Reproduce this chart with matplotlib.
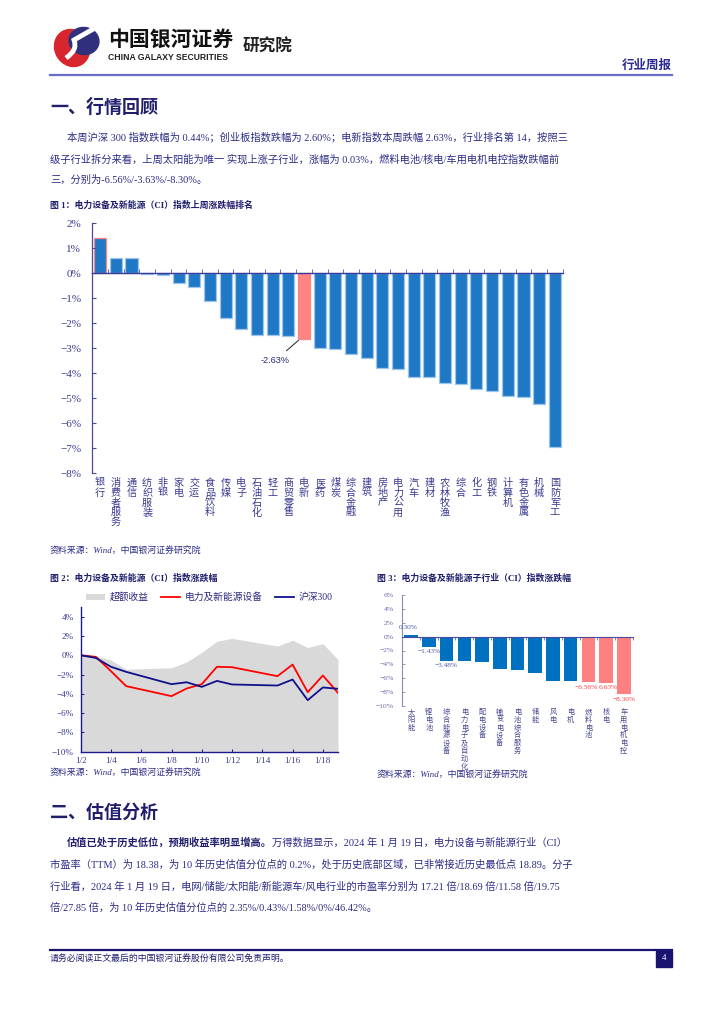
import numpy as np
import matplotlib
matplotlib.use("Agg")
import matplotlib.pyplot as plt
from matplotlib.patches import Rectangle, Ellipse, Patch, PathPatch
from matplotlib.lines import Line2D
from matplotlib.path import Path

# ---------------- data ----------------
# Figure 1: weekly change by industry (%)
ind_labels = ['银行', '消费者服务', '通信', '纺织服装', '非银', '家电', '交运', '食品饮料', '传媒', '电子',
              '石油石化', '轻工', '商贸零售', '电新', '医药', '煤炭', '综合金融', '建筑', '房地产', '电力公用',
              '汽车', '建材', '农林牧渔', '综合', '化工', '钢铁', '计算机', '有色金属', '机械', '国防军工']
ind_values = [1.40, 0.63, 0.60, -0.04, -0.07, -0.39, -0.56, -1.11, -1.80, -2.23,
              -2.45, -2.48, -2.49, -2.63, -2.99, -3.04, -3.24, -3.37, -3.80, -3.83,
              -4.13, -4.13, -4.40, -4.44, -4.61, -4.72, -4.92, -4.95, -5.24, -6.96]
ind_highlight = '电新'

# Figure 2: cumulative change since 1/2 (%)
day_of_jan = [2, 3, 4, 5, 8, 9, 10, 11, 12, 15, 16, 17, 18, 19]
power_equip = [0.0, -0.17, -1.65, -3.20, -4.24, -3.45, -3.00, -1.20, -1.24, -2.17, -0.97, -3.83, -2.10, -3.90]
hs300 = [0.0, -0.28, -1.20, -1.72, -3.00, -2.80, -3.28, -2.66, -3.03, -3.14, -2.52, -4.66, -3.34, -3.48]
excess = [0.0, -0.05, -0.50, -1.45, -1.30, -0.70, 0.30, 1.45, 1.75, 0.95, 1.55, 0.80, 1.20, -0.45]
date_ticks = [2, 4, 6, 8, 10, 12, 14, 16, 18]
date_tick_labels = ['1/2', '1/4', '1/6', '1/8', '1/10', '1/12', '1/14', '1/16', '1/18']

# Figure 3: sub-industry change (%)
sub_labels = ['太阳能', '锂电池', '综合能源设备', '电力电子及自动化', '配电设备', '输变电设备', '电池综合服务',
              '储能', '风电', '电机', '燃料电池', '核电', '车用电机电控']
sub_values = [0.30, -1.43, -3.48, -3.55, -3.69, -4.70, -4.80, -5.28, -6.33, -6.38, -6.56, -6.63, -8.30]
sub_highlight = ['燃料电池', '核电', '车用电机电控']
sub_value_texts = {0: '0.30%', 1: '−1.43%', 2: '−3.48%', 10: '−6.56%', 11: '6.63%', 12: '−8.30%'}

# ---------------- style ----------------
W, H = 724, 1024
NAVY = '#2B2B85'
DARK = '#1F1F6E'
CJK = ['Liberation Serif', 'Noto Sans CJK SC', 'DejaVu Sans']
CJK_SANS = ['Noto Sans CJK SC', 'DejaVu Sans']
plt.rcParams['font.family'] = CJK
plt.rcParams['axes.unicode_minus'] = True
BODY = 7.4

fig = plt.figure(figsize=(W / 100, H / 100), dpi=100)
fig.patch.set_facecolor('white')

page = fig.add_axes([0, 0, 1, 1])
page.set_xlim(0, W)
page.set_ylim(H, 0)
page.axis('off')
page.set_zorder(0)


def add_ax(x0, y0, x1, y1):
    a = fig.add_axes([x0 / W, 1 - y1 / H, (x1 - x0) / W, (y1 - y0) / H])
    a.set_zorder(2)
    a.patch.set_alpha(0)
    return a


def pct(v):
    s = f'{abs(int(v))}%'
    return ('−' + s) if v < 0 else s


# ---------------- header ----------------
page.add_patch(Ellipse((72, 48), 34, 38, angle=-30, color='#D7262E'))
page.add_patch(Ellipse((84, 41), 30, 27, angle=10, color='#2F2F7E'))
s_path = Path([(66, 58), (78, 50), (74, 40), (88, 32), (95, 28)],
              [Path.MOVETO, Path.CURVE3, Path.CURVE3, Path.CURVE3, Path.CURVE3])
page.add_patch(PathPatch(s_path, fc='none', ec='white', lw=3.5))
page.text(108, 39, '中国银河证券', fontsize=15, fontweight='bold', color='#111111',
          family=CJK_SANS, va='center', ha='left')
page.text(108, 58, 'CHINA GALAXY SECURITIES', fontsize=6.2, fontweight='bold', color='#222222',
          family=['Liberation Sans'], va='center', ha='left')
page.text(243, 47, '研究院', fontsize=12, fontweight='bold', color='#222222',
          family=CJK_SANS, va='center', ha='left')
page.text(672, 65, '行业周报', fontsize=9, fontweight='bold', color='#2B2B95',
          family=CJK_SANS, va='center', ha='right')
page.plot([50, 672], [75, 75], color='#6A6AC8', lw=1.6)

# ---------------- section 1 ----------------
page.text(50, 107, '一、行情回顾', fontsize=13, fontweight='bold', color=DARK, family=CJK_SANS,
          va='center', ha='left')
p1 = ['本周沪深 300 指数跌幅为 0.44%；创业板指数跌幅为 2.60%；电新指数本周跌幅 2.63%，行业排名第 14，按照三',
      '级子行业拆分来看，上周太阳能为唯一 实现上涨子行业，涨幅为 0.03%，燃料电池/核电/车用电机电控指数跌幅前',
      '三，分别为-6.56%/-3.63%/-8.30%。']
for i, (ln, y) in enumerate(zip(p1, [137, 159, 180])):
    page.text(67 if i == 0 else 50, y, ln, fontsize=BODY, color=NAVY, va='center', ha='left')

page.text(50, 205, '图 1：电力设备及新能源（CI）指数上周涨跌幅排名', fontsize=6.4, fontweight='bold',
          color=DARK, va='center', ha='left')

# ---------------- figure 1 ----------------
ax1 = add_ax(92.3, 223.3, 562.7, 473.3)
x1 = np.arange(len(ind_values))
cols = ['#FF8585' if l == ind_highlight else '#1F78C6' for l in ind_labels]
edges = ['#FF8585' if (l == ind_highlight or i == 0) else '#9EC5EA' for i, l in enumerate(ind_labels)]
ax1.bar(x1, ind_values, width=0.77, color=cols, edgecolor=edges, linewidth=0.9)
ax1.set_xlim(-0.5, len(ind_values) - 0.5)
ax1.set_ylim(-8, 2)
for s in ['top', 'right']:
    ax1.spines[s].set_visible(False)
ax1.spines['bottom'].set_position(('data', 0))
ax1.spines['bottom'].set_color('#3A3A9A')
ax1.spines['left'].set_color('#4A4AA0')
ax1.spines['bottom'].set_linewidth(1.0)
ax1.spines['left'].set_linewidth(0.9)
ax1.set_xticks(np.arange(-0.5, len(ind_values), 1))
ax1.set_xticklabels([])
ax1.tick_params(axis='x', direction='in', length=3, color='#6A6AB0', width=0.7)
yt = np.arange(-8, 3, 1)
ax1.set_yticks(yt)
ax1.set_yticklabels([pct(v) for v in yt], fontsize=8, color='#3A3A90', family=['Liberation Serif'])
ax1.tick_params(axis='y', direction='in', length=3, color='#4A4AA0', width=0.8, pad=8)
for i, lab in enumerate(ind_labels):
    for j, ch in enumerate(lab):
        ax1.text(i, -0.018 - j * 0.0395, ch, transform=ax1.get_xaxis_transform(), ha='center', va='top',
                 fontsize=7.3, color='#3A3A90', family=CJK_SANS)
hi = ind_labels.index(ind_highlight)
ax1.annotate('-2.63%', xy=(hi - 0.35, ind_values[hi] - 0.05), xytext=(11.15, -3.5),
             ha='center', va='center', fontsize=6.6, color='#2B2B80', family=['Liberation Sans'],
             arrowprops=dict(arrowstyle='-', color='#222222', lw=0.7, shrinkA=3, shrinkB=0))

page.text(50, 551, '资料来源：Wind，中国银河证券研究院', fontsize=6.4, style='italic', color=NAVY,
          va='center', ha='left')

# ---------------- figure 2 ----------------
page.text(50, 578, '图 2：电力设备及新能源（CI）指数涨跌幅', fontsize=6.4, fontweight='bold', color=DARK,
          va='center', ha='left')
ax2 = add_ax(80.7, 607, 338, 751.7)
ax2.fill_between(day_of_jan, -10, excess, color='#D9D9D9', lw=0, label='超额收益')
ax2.plot(day_of_jan, power_equip, color='#FF0000', lw=1.3, label='电力及新能源设备')
ax2.plot(day_of_jan, hs300, color='#10108C', lw=1.3, label='沪深300')
ax2.set_xlim(2, 19)
ax2.set_ylim(-10, 5)
for s in ['top', 'right']:
    ax2.spines[s].set_visible(False)
for s in ['left', 'bottom']:
    ax2.spines[s].set_color('#1A1A8A')
    ax2.spines[s].set_linewidth(1.0)
ax2.set_yticks(np.arange(-10, 5, 2))
ax2.set_yticklabels([pct(v) for v in np.arange(-10, 5, 2)], fontsize=6.6, color='#3A3A90',
                    family=['Liberation Serif'])
ax2.set_xticks(date_ticks)
ax2.set_xticklabels(date_tick_labels, fontsize=6.6, color='#3A3A90', family=['Liberation Serif'])
ax2.tick_params(axis='both', direction='in', length=2.5, color='#1A1A8A', width=0.7)
ax2.tick_params(axis='y', pad=5)
ax2.tick_params(axis='x', pad=4)
handles = [Patch(facecolor='#D9D9D9', edgecolor='none'), Line2D([], [], color='#FF0000', lw=1.3),
           Line2D([], [], color='#10108C', lw=1.3)]
leg = ax2.legend(handles, ['超额收益', '电力及新能源设备', '沪深300'], loc='lower center',
                 bbox_to_anchor=(0.5, 1.0), ncol=3, frameon=False, fontsize=7, handlelength=2.0,
                 handleheight=0.6, columnspacing=1.2, handletextpad=0.5, borderaxespad=0.1)
for t in leg.get_texts():
    t.set_color('#2B2B80')
page.text(50, 773, '资料来源：Wind，中国银河证券研究院', fontsize=6.4, style='italic', color=NAVY,
          va='center', ha='left')

# ---------------- figure 3 ----------------
page.text(377, 578, '图 3：电力设备及新能源子行业（CI）指数涨跌幅', fontsize=6.4, fontweight='bold', color=DARK,
          va='center', ha='left')
ax3 = add_ax(402.3, 595, 632.7, 706)
x3 = np.arange(len(sub_values))
c3 = ['#FF8080' if l in sub_highlight else '#0070C0' for l in sub_labels]
ax3.bar(x3, sub_values, width=0.76, color=c3)
ax3.set_xlim(-0.5, len(sub_values) - 0.5)
ax3.set_ylim(-10, 6)
for s in ['top', 'right']:
    ax3.spines[s].set_visible(False)
ax3.spines['bottom'].set_position(('data', 0))
ax3.spines['bottom'].set_color('#4A4A9A')
ax3.spines['left'].set_color('#8A8AB8')
ax3.spines['bottom'].set_linewidth(0.8)
ax3.spines['left'].set_linewidth(0.8)
ax3.set_xticks(np.arange(-0.5, len(sub_values), 1))
ax3.set_xticklabels([])
ax3.tick_params(axis='x', direction='out', length=2.5, color='#6A6AB0', width=0.6)
yt3 = np.arange(-10, 7, 2)
ax3.set_yticks(yt3)
ax3.set_yticklabels([pct(v) for v in yt3], fontsize=5.4, color='#6A6AA8', family=['Liberation Serif'])
ax3.tick_params(axis='y', direction='in', length=2, color='#8A8AB8', width=0.6, pad=6)
for i, lab in enumerate(sub_labels):
    for j, ch in enumerate(lab):
        ax3.text(i, -0.018 - j * 0.0705, ch, transform=ax3.get_xaxis_transform(), ha='center', va='top',
                 fontsize=5.2, color='#4A4A90', family=CJK_SANS)
for i, txt in sub_value_texts.items():
    v = sub_values[i]
    col = '#FF3B3B' if sub_labels[i] in sub_highlight else '#4A5AA8'
    dx = {0: -0.15, 10: -0.12, 11: 0.12}.get(i, 0)
    ax3.text(i + dx, v + (0.6 if v > 0 else -0.35), txt, ha='center', va='bottom' if v > 0 else 'top',
             fontsize=5.3, color=col, family=['Liberation Serif'])
page.text(377, 775, '资料来源：Wind，中国银河证券研究院', fontsize=6.4, style='italic', color=NAVY,
          va='center', ha='left')

# ---------------- section 2 ----------------
page.text(50, 812, '二、估值分析', fontsize=13, fontweight='bold', color=DARK, family=CJK_SANS,
          va='center', ha='left')
tb = page.text(67, 843, '估值已处于历史低位，预期收益率明显增高。', fontsize=BODY, fontweight='bold', color=DARK,
               family=CJK_SANS, va='center', ha='left')
fig.canvas.draw()
bb = tb.get_window_extent(fig.canvas.get_renderer())
xend = page.transData.inverted().transform((bb.x1, bb.y0))[0]
page.text(xend, 843, '万得数据显示，2024 年 1 月 19 日，电力设备与新能源行业（CI）', fontsize=BODY, color=NAVY,
          va='center', ha='left')
p2 = ['市盈率（TTM）为 18.38，为 10 年历史估值分位点的 0.2%，处于历史底部区域，已非常接近历史最低点 18.89。分子',
      '行业看，2024 年 1 月 19 日，电网/储能/太阳能/新能源车/风电行业的市盈率分别为 17.21 倍/18.69 倍/11.58 倍/19.75',
      '倍/27.85 倍，为 10 年历史估值分位点的 2.35%/0.43%/1.58%/0%/46.42%。']
for ln, y in zip(p2, [865, 887, 908]):
    page.text(50, y, ln, fontsize=BODY, color=NAVY, va='center', ha='left')

# ---------------- footer ----------------
page.plot([50, 672], [949.5, 949.5], color='#1A1470', lw=1.6)
page.text(50, 958, '请务必阅读正文最后的中国银河证券股份有限公司免责声明。', fontsize=6.4, color=DARK,
          va='center', ha='left')
page.add_patch(Rectangle((656, 950.5), 16, 16.5, color='#1A1470'))
page.text(664, 958.5, '4', fontsize=6.5, color='white', va='center', ha='center')

fig.savefig('out.png', dpi=100, facecolor='white')
